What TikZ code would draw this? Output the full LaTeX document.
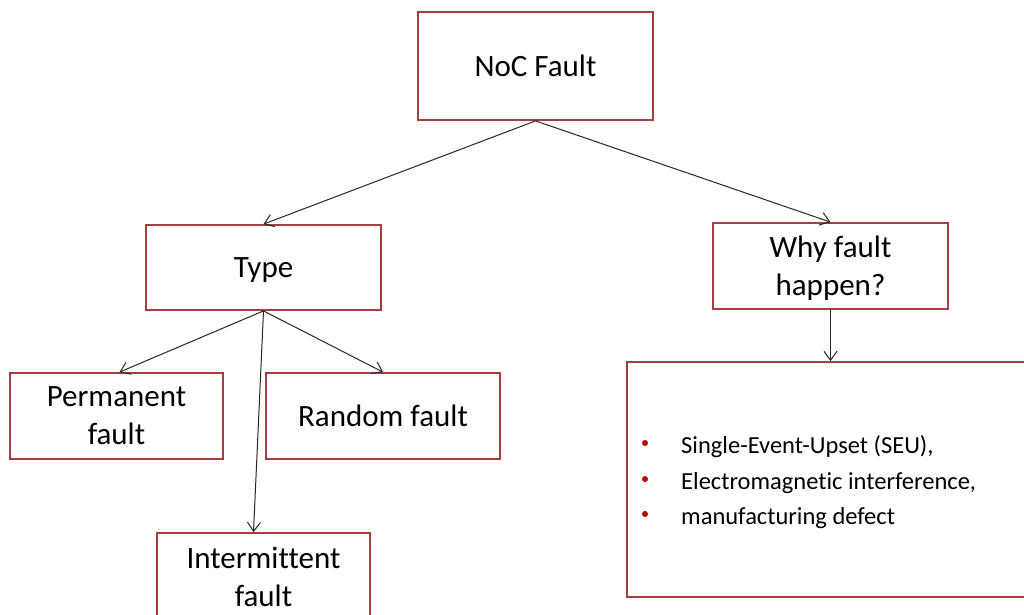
\documentclass[tikz,border=0pt]{standalone}
\usepackage{fontspec}
\setmainfont[Ligatures={NoCommon}]{Carlito}
\usetikzlibrary{arrows.meta,calc}
\definecolor{boxred}{HTML}{A3403F}
\definecolor{bulred}{HTML}{C00000}
\tikzset{
  box/.style={draw=boxred, line width=1.8pt, fill=white, align=center, inner sep=0pt, text depth=-3pt, font=\fontsize{31}{38}\selectfont},
  conn/.style={draw=black!85, line width=1pt, -{Straight Barb[length=9pt,width=13pt,line width=1pt]}},
  bul/.style={font=\fontsize{24.5}{28}\selectfont, anchor=base west, inner sep=0pt},
  dot/.style={circle, fill=bulred, inner sep=0pt, minimum size=6pt}
}
\begin{document}
\begin{tikzpicture}[x=1pt,y=-1pt]
\useasboundingbox (0,0) rectangle (1024,614);
\node[box, minimum width=235pt, minimum height=108pt] (noc) at (535.5,66) {NoC Fault};
\node[box, minimum width=235pt, minimum height=85pt] (type) at (263.5,267.5) {Type};
\node[box, minimum width=235pt, minimum height=86pt] (why) at (830.5,266) {Why fault\\happen?};
\node[box, minimum width=213pt, minimum height=86pt] (perm) at (116.5,416) {Permanent\\fault};
\node[box, minimum width=234pt, minimum height=86pt] (rand) at (383,416) {Random fault};
\node[box, minimum width=213pt, minimum height=88pt] (inter) at (263.5,577) {Intermittent\\fault};
\node[box, minimum width=405pt, minimum height=235pt] (bul) at (829.5,479.5) {};
\draw[conn] (noc.south) -- (type.north);
\draw[conn] (noc.south) -- (why.north);
\draw[conn] (type.south) -- ([xshift=3pt]perm.north);
\draw[conn] (type.south) -- (rand.north);
\draw[conn] (type.south) -- ([xshift=-10pt]inter.north);
\draw[conn] (why.south) -- (why.south |- bul.north);
\node[dot] (d1) at (645,443) {};
\node[dot] (d2) at (645,479) {};
\node[dot] (d3) at (645,514) {};
\node[bul] (t1) at (681,453) {Single-Event-Upset (SEU),};
\node[bul] (t2) at (681,489) {Electromagnetic interference,};
\node[bul] (t3) at (681,524) {manufacturing defect};
\end{tikzpicture}
\end{document}
